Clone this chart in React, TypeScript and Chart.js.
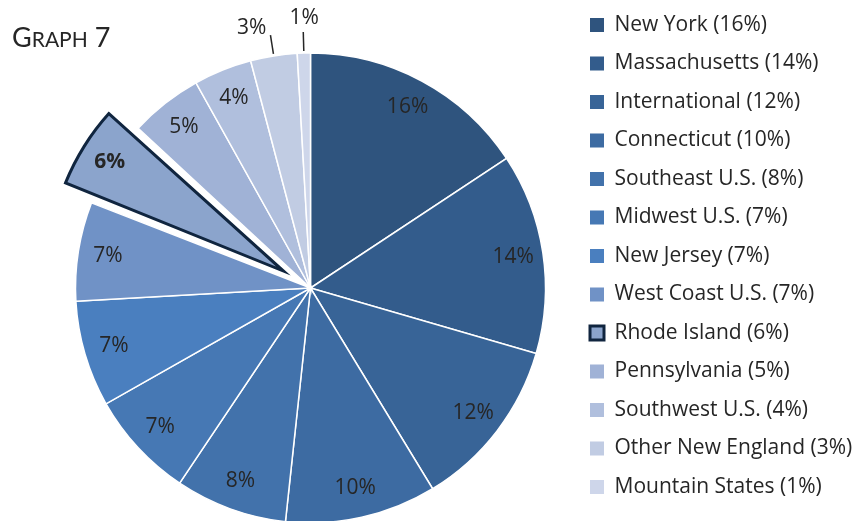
import React, { useEffect, useRef } from 'react';
import { Chart, registerables } from 'chart.js';

Chart.register(...registerables);

// ---- data ----
const categories = [
  'New York',
  'Massachusetts',
  'International',
  'Connecticut',
  'Southeast U.S.',
  'Midwest U.S.',
  'New Jersey',
  'West Coast U.S.',
  'Rhode Island',
  'Pennsylvania',
  'Southwest U.S.',
  'Other New England',
  'Mountain States',
];
const shares = [15.7, 13.8, 11.8, 10.4, 7.7, 7.4, 7.3, 6.8, 6.0, 5.0, 4.0, 3.2, 0.9];
const sliceColors = [
  '#2F547E',
  '#335C8C',
  '#386497',
  '#3D6BA2',
  '#4272AB',
  '#4678B4',
  '#4A7FBF',
  '#7092C6',
  '#8BA4CC',
  '#A0B2D6',
  '#B0BFDD',
  '#C1CCE3',
  '#CED6EA',
];
const explodedIndex = 8;
const outsideLabelIndexes = [11, 12];
const titleMain = 'G';
const titleSmall = 'RAPH';
const titleTail = ' 7';

// ---- styling constants ----
const W = 866;
const H = 582;
const TOP_SHIFT = -3;
const RADIUS = 235;
const EXPLODE = 32;
const TEXT = '#262626';
const FONT = '"Open Sans"';
const TITLE_FONT = 'Lato';
const FONT_SIZE = 21;
const RI_BORDER = '#10253F';
const LEGEND_PAD = 17.5;
const LEGEND_W = 293.5;

const total = shares.reduce((a, b) => a + b, 0);
const pct = (v: number) => Math.round((v / total) * 100) + '%';

const sliceLabelPlugin = {
  id: 'sliceLabels',
  beforeLayout(chart: any) {
    const lg = chart.legend;
    if (lg && !lg.__fixedWidth) {
      const orig = lg.fit.bind(lg);
      lg.fit = function () {
        orig();
        this.width = LEGEND_W;
      };
      lg.__fixedWidth = true;
    }
  },
  afterDatasetUpdate(chart: any) {
    const meta = chart.getDatasetMeta(0);
    const arc = meta.data[explodedIndex];
    if (!arc) return;
    const circ = arc.endAngle - arc.startAngle;
    const fix = 1 - Math.sin(Math.min(Math.PI, circ));
    arc.outerRadius = RADIUS - EXPLODE * fix;
  },
  afterDatasetsDraw(chart: any) {
    const ctx = chart.ctx;
    const meta = chart.getDatasetMeta(0);
    ctx.save();
    ctx.fillStyle = TEXT;
    meta.data.forEach((arc: any, i: number) => {
      const mid = (arc.startAngle + arc.endAngle) / 2;
      let cx = arc.x;
      let cy = arc.y;
      const text = pct(shares[i]);
      if (i === explodedIndex) {
        cx += Math.cos(mid) * EXPLODE;
        cy += Math.sin(mid) * EXPLODE;
      }
      if (outsideLabelIndexes.includes(i)) {
        const x1 = cx + Math.cos(mid) * (RADIUS + 2);
        const y1 = cy + Math.sin(mid) * (RADIUS + 2);
        const x2 = cx + Math.cos(mid) * (RADIUS + 21);
        const y2 = cy + Math.sin(mid) * (RADIUS + 21);
        ctx.strokeStyle = TEXT;
        ctx.lineWidth = 1.5;
        ctx.beginPath();
        ctx.moveTo(x1, y1);
        ctx.lineTo(x2, y2);
        ctx.stroke();
        ctx.font = `${FONT_SIZE}px ${FONT}`;
        ctx.textBaseline = 'middle';
        if (Math.abs(Math.cos(mid)) < 0.05) {
          ctx.textAlign = 'center';
          ctx.fillText(text, x2 + 1, y2 - 14);
        } else {
          ctx.textAlign = 'right';
          ctx.fillText(text, x2 - 4, y2 - 7);
        }
        return;
      }
      const r = 205;
      ctx.font = `${i === explodedIndex ? 'bold ' : ''}${FONT_SIZE}px ${FONT}`;
      ctx.textAlign = 'center';
      ctx.textBaseline = 'middle';
      ctx.fillText(text, cx + Math.cos(mid) * r, cy + Math.sin(mid) * r);
    });
    ctx.restore();
  },
  afterDraw(chart: any) {
    const ctx = chart.ctx;
    ctx.save();
    ctx.fillStyle = TEXT;
    ctx.textBaseline = 'alphabetic';
    ctx.textAlign = 'left';
    const baseY = 47 - TOP_SHIFT;
    let x = 12;
    ctx.font = `27px ${TITLE_FONT}`;
    ctx.fillText(titleMain, x, baseY);
    x += ctx.measureText(titleMain).width;
    ctx.font = `21px ${TITLE_FONT}`;
    ctx.fillText(titleSmall, x, baseY);
    x += ctx.measureText(titleSmall).width;
    ctx.font = `27px ${TITLE_FONT}`;
    ctx.fillText(titleTail, x, baseY);
    ctx.restore();
  },
};

export default function App() {
  const ref = useRef<HTMLCanvasElement | null>(null);

  useEffect(() => {
    if (!ref.current) return;
    Chart.defaults.font.family = FONT;
    const defaultGen = (Chart as any).overrides.doughnut.plugins.legend.labels.generateLabels;
    const chart = new Chart(ref.current, {
      type: 'pie',
      data: {
        labels: categories,
        datasets: [
          {
            data: shares,
            backgroundColor: sliceColors,
            borderColor: categories.map((_, i) => (i === explodedIndex ? RI_BORDER : '#FFFFFF')),
            borderWidth: categories.map((_, i) => (i === explodedIndex ? 3 : 1.5)),
            borderJoinStyle: 'miter',
            offset: categories.map((_, i) => (i === explodedIndex ? EXPLODE * 4 : 0)),
          } as any,
        ],
      },
      options: {
        responsive: false,
        animation: false,
        radius: RADIUS,
        layout: { padding: { left: 48.5, right: 0, top: 0, bottom: 0 } },
        plugins: {
          tooltip: { enabled: false },
          legend: {
            position: 'right',
            align: 'start',
            labels: {
              boxWidth: 14,
              boxHeight: 14,
              padding: LEGEND_PAD,
              color: TEXT,
              font: { family: FONT, size: FONT_SIZE },
              generateLabels: (ch: any) =>
                defaultGen(ch).map((item: any, i: number) => ({
                  ...item,
                  text: `${categories[i]} (${pct(shares[i])})`,
                  lineWidth: i === explodedIndex ? 3 : 0,
                  strokeStyle: i === explodedIndex ? RI_BORDER : item.fillStyle,
                })),
            },
          },
        },
      } as any,
      plugins: [sliceLabelPlugin],
    });
    return () => chart.destroy();
  }, []);

  return (
    <div style={{ position: 'absolute', left: 0, top: 0, width: W, height: 521, overflow: 'hidden', background: '#fff' }}>
      <canvas ref={ref} width={W} height={H} style={{ position: 'absolute', left: 0, top: TOP_SHIFT, width: W, height: H }} />
    </div>
  );
}
